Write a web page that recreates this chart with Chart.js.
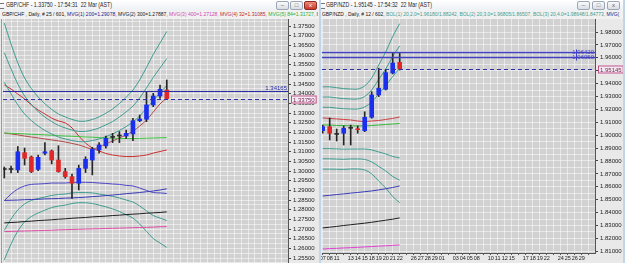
<!DOCTYPE html>
<html>
<head>
<meta charset="utf-8">
<script src="https://cdn.jsdelivr.net/npm/chart.js@4.4.0/dist/chart.umd.min.js"></script>
<style>
  body { margin: 0; width: 625px; height: 263px; overflow: hidden; background: #c3d5ea; position: relative;
         font-family: "Liberation Sans", Arial, sans-serif; }
  .win { position: absolute; top: 0; height: 263px; background: #e9e9e9; overflow: hidden; }
  #w1 { left: 0; width: 319px; }
  #w2 { left: 321px; width: 302px; }
  .title { position: absolute; left: 0; right: 0; top: 0; height: 10px; background: linear-gradient(#ffffff, #eef1f5);
           font-size: 7px; line-height: 10px; color: #1e1e1e; white-space: nowrap; }
  .info { position: absolute; left: 0; right: 0; top: 10px; height: 9px; background: #f1f1f1;
          font-size: 6px; line-height: 9px; white-space: nowrap; }
  .fit { display: inline-block; transform-origin: 0 50%; position: absolute; top: 0; }
  .ico { position: absolute; left: 0; top: 3px; width: 4px; height: 4px; border-top: 1px solid #777; border-bottom: 1px solid #777; }
  .btn { position: absolute; top: 1px; width: 11px; height: 7px; border: 1px solid #9ba6b6; border-radius: 2px;
         background: linear-gradient(#fafafa, #d9dde3); font-size: 6px; line-height: 7px; text-align: center; color: #555; }
  .btn.close { background: linear-gradient(#ec8a78, #c7392b); border-color: #8d2c22; color: #fff; }
  .edge { position: absolute; top: 19px; width: 1px; height: 244px; background: #9a9a9a; }
  canvas { position: absolute; top: 19px; }
</style>
</head>
<body>
<div class="win" id="w1">
  <div class="title"><span class="ico"></span><span class="fit" style="left:6px" data-w="106">GBP/CHF - 1.33750 - 17:54:31&nbsp;&nbsp;22 Mar (AST)</span></div>
  <div class="btn" style="left:276px">&#8211;</div>
  <div class="btn" style="left:290px">&#9633;</div>
  <div class="btn close" style="left:304px">x</div>
  <div class="info"><span class="fit" style="left:2px" data-w="316"><span style="color:#111">GBP/CHF , Daily, # 25 / 601, </span><span style="color:#1c1c8c">MVG(1) 200=1.29078, </span><span style="color:#1a1a1a">MVG(2) 300=1.27887, </span><span style="color:#d04ab8">MVG(3) 400=1.27128, </span><span style="color:#c02a2a">MVG(4) 32=1.31085, </span><span style="color:#2fb02f">MVG(5) 84=1.31727, </span><span style="color:#1c1c8c">I</span></span></div>
  <div class="edge" style="left:1px"></div>
  <canvas id="chf" width="317" height="244" style="left:2px"></canvas>
</div>
<div class="win" id="w2">
  <div class="title"><span class="ico"></span><span class="fit" style="left:5px" data-w="106">GBP/NZD - 1.95145 - 17:54:32&nbsp;&nbsp;22 Mar (AST)</span></div>
  <div class="btn" style="left:256px">&#8211;</div>
  <div class="btn" style="left:271px">&#9633;</div>
  <div class="btn" style="left:286px">x</div>
  <div class="info"><span class="fit" style="left:1px" data-w="297"><span style="color:#111">GBP/NZD , Daily, # 12 / 602, </span><span style="color:#3a9d92">BOL(1) 20,2.0=1.96180/1.88242, BOL(2) 20,3.0=1.96805/1.86507, BOL(3) 20,4.0=1.98648/1.84773, </span><span style="color:#1c1c8c">MVG(</span></span></div>
  <canvas id="nzd" width="302" height="244" style="left:0"></canvas>
</div>
<script>
// GBP/CHF daily candles
const chfOpen  = [1.3011, 1.3008, 1.3006, 1.3095, 1.3073, 1.3009, 1.3092, 1.3104, 1.3057, 1.2997, 1.2971, 1.2937, 1.3014, 1.3057, 1.3109, 1.3130, 1.3175, 1.3182, 1.3181, 1.3192, 1.3260, 1.3268, 1.3342, 1.3388, 1.3419]
const chfHigh  = [1.3021, 1.3026, 1.3127, 1.3119, 1.3078, 1.3083, 1.3147, 1.3109, 1.3131, 1.3014, 1.2985, 1.3031, 1.3074, 1.3123, 1.3147, 1.3181, 1.3195, 1.3204, 1.3212, 1.3273, 1.3290, 1.3410, 1.3402, 1.3445, 1.3471]
const chfLow   = [1.2964, 1.2990, 1.2992, 1.3031, 1.2992, 1.3002, 1.3083, 1.3037, 1.2994, 1.2963, 1.2859, 1.2902, 1.2992, 1.2980, 1.3092, 1.3118, 1.3147, 1.3147, 1.3169, 1.3157, 1.3255, 1.3255, 1.3333, 1.3376, 1.3376]
const chfClose = [1.3008, 1.3010, 1.3100, 1.3066, 1.2997, 1.3071, 1.3100, 1.3057, 1.2997, 1.2971, 1.2937, 1.3014, 1.3061, 1.3113, 1.3135, 1.3169, 1.3174, 1.3181, 1.3195, 1.3260, 1.3269, 1.3342, 1.3388, 1.3423, 1.3375]

// GBP/CHF moving averages
const chfMvg200 = [1.2848, 1.2849, 1.2850, 1.2852, 1.2853, 1.2854, 1.2856, 1.2857, 1.2858, 1.2860, 1.2861, 1.2863, 1.2865, 1.2868, 1.2870, 1.2873, 1.2876, 1.2879, 1.2883, 1.2886, 1.2889, 1.2893, 1.2897, 1.2902, 1.2908]
const chfMvg300 = [1.2732, 1.2734, 1.2736, 1.2739, 1.2741, 1.2744, 1.2746, 1.2748, 1.2751, 1.2753, 1.2756, 1.2758, 1.2760, 1.2763, 1.2765, 1.2767, 1.2770, 1.2772, 1.2775, 1.2777, 1.2779, 1.2782, 1.2784, 1.2786, 1.2789]
const chfMvg400 = [1.2687, 1.2688, 1.2689, 1.2690, 1.2691, 1.2692, 1.2693, 1.2694, 1.2696, 1.2697, 1.2698, 1.2699, 1.2700, 1.2701, 1.2702, 1.2703, 1.2704, 1.2705, 1.2706, 1.2707, 1.2708, 1.2709, 1.2710, 1.2712, 1.2713]
const chfMvg32  = [1.3445, 1.3424, 1.3398, 1.3373, 1.3342, 1.3316, 1.3295, 1.3274, 1.3259, 1.3249, 1.3223, 1.3181, 1.3145, 1.3119, 1.3104, 1.3091, 1.3083, 1.3078, 1.3075, 1.3075, 1.3078, 1.3083, 1.3093, 1.3101, 1.3109]
const chfMvg84  = [1.3197, 1.3195, 1.3194, 1.3192, 1.3190, 1.3189, 1.3187, 1.3185, 1.3183, 1.3181, 1.3180, 1.3178, 1.3176, 1.3175, 1.3173, 1.3171, 1.3170, 1.3169, 1.3168, 1.3168, 1.3169, 1.3170, 1.3171, 1.3172, 1.3173]
const chfFast   = [1.3197, 1.3192, 1.3187, 1.3181, 1.3176, 1.3171, 1.3166, 1.3161, 1.3156, 1.3150, 1.3143, 1.3135, 1.3124, 1.3114, 1.3124, 1.3140, 1.3156, 1.3171, 1.3187, 1.3207, 1.3233, 1.3264, 1.3305, 1.3347, 1.3378]

// GBP/CHF bollinger bands (2, 3, 4 deviations)
const chfBolU4 = [1.3765, 1.3657, 1.3559, 1.3481, 1.3427, 1.3383, 1.3348, 1.3319, 1.3295, 1.3280, 1.3267, 1.3258, 1.3258, 1.3267, 1.3280, 1.3299, 1.3321, 1.3349, 1.3382, 1.3419, 1.3471, 1.3536, 1.3603, 1.3662, 1.3722]
const chfBolU3 = [1.3612, 1.3528, 1.3450, 1.3388, 1.3344, 1.3308, 1.3279, 1.3256, 1.3236, 1.3223, 1.3212, 1.3205, 1.3205, 1.3212, 1.3223, 1.3239, 1.3256, 1.3280, 1.3306, 1.3336, 1.3378, 1.3430, 1.3484, 1.3533, 1.3582]
const chfBolU2 = [1.3459, 1.3399, 1.3342, 1.3295, 1.3261, 1.3233, 1.3210, 1.3192, 1.3176, 1.3166, 1.3158, 1.3152, 1.3152, 1.3158, 1.3166, 1.3178, 1.3192, 1.3210, 1.3230, 1.3254, 1.3285, 1.3324, 1.3365, 1.3404, 1.3442]
const chfBolL2 = [1.2847, 1.2881, 1.2907, 1.2923, 1.2931, 1.2933, 1.2935, 1.2938, 1.2938, 1.2938, 1.2941, 1.2942, 1.2942, 1.2941, 1.2938, 1.2936, 1.2933, 1.2931, 1.2926, 1.2923, 1.2912, 1.2900, 1.2889, 1.2887, 1.2884]
const chfBolL3 = [1.2694, 1.2752, 1.2799, 1.2830, 1.2848, 1.2858, 1.2866, 1.2874, 1.2879, 1.2881, 1.2887, 1.2889, 1.2889, 1.2887, 1.2881, 1.2876, 1.2869, 1.2861, 1.2850, 1.2840, 1.2819, 1.2794, 1.2770, 1.2757, 1.2744]
const chfBolL4 = [1.2541, 1.2623, 1.2690, 1.2737, 1.2765, 1.2783, 1.2798, 1.2811, 1.2819, 1.2824, 1.2832, 1.2836, 1.2836, 1.2832, 1.2824, 1.2815, 1.2804, 1.2791, 1.2774, 1.2757, 1.2726, 1.2688, 1.2651, 1.2628, 1.2605]

const chfLevels = [1.34165, 1.33750]
const chfTickLabels = ['1.25500', '1.26000', '1.26500', '1.27000', '1.27500', '1.28000', '1.28500', '1.29000', '1.29500', '1.30000', '1.30500', '1.31000', '1.31500', '1.32000', '1.32500', '1.33000', '1.33500', '1.34000', '1.34500', '1.35000', '1.35500', '1.36000', '1.36500', '1.37000', '1.37500']

// GBP/NZD daily candles
const nzdOpen  = [1.9035, 1.9066, 1.9008, 1.9015, 1.9054, 1.9048, 1.9035, 1.9139, 1.9312, 1.9356, 1.9482, 1.9565]
const nzdHigh  = [1.9079, 1.9134, 1.9048, 1.9072, 1.9079, 1.9072, 1.9182, 1.9337, 1.9519, 1.9511, 1.9640, 1.9635]
const nzdLow   = [1.9015, 1.8963, 1.8955, 1.8924, 1.8924, 1.9015, 1.9027, 1.9131, 1.9299, 1.9350, 1.9475, 1.9505]
const nzdClose = [1.9066, 1.9015, 1.9006, 1.9054, 1.9053, 1.9043, 1.9139, 1.9312, 1.9364, 1.9485, 1.9560, 1.95145]

const nzdBolU4 = [1.9375, 1.9375, 1.9368, 1.9361, 1.9358, 1.9358, 1.9382, 1.9444, 1.9544, 1.9645, 1.9765, 1.9865]
const nzdBolU3 = [1.9296, 1.9296, 1.9289, 1.9283, 1.9281, 1.9281, 1.9300, 1.9351, 1.9432, 1.9513, 1.9610, 1.9692]
const nzdBolU2 = [1.9216, 1.9216, 1.9210, 1.9205, 1.9203, 1.9203, 1.9219, 1.9258, 1.9320, 1.9382, 1.9455, 1.9518]
const nzdBolL2 = [1.8896, 1.8896, 1.8894, 1.8892, 1.8893, 1.8893, 1.8893, 1.8886, 1.8870, 1.8855, 1.8835, 1.8824]
const nzdBolL3 = [1.8817, 1.8817, 1.8815, 1.8813, 1.8816, 1.8816, 1.8812, 1.8793, 1.8758, 1.8723, 1.8680, 1.8651]
const nzdBolL4 = [1.8737, 1.8737, 1.8736, 1.8735, 1.8738, 1.8738, 1.8731, 1.8700, 1.8645, 1.8591, 1.8525, 1.8477]

const nzdMvgRed   = [1.9134, 1.9130, 1.9126, 1.9122, 1.9118, 1.9110, 1.9106, 1.9110, 1.9114, 1.9122, 1.9130, 1.9141]
const nzdMvgGreen = [1.9079, 1.9079, 1.9075, 1.9075, 1.9072, 1.9072, 1.9072, 1.9075, 1.9079, 1.9083, 1.9087, 1.9091]
const nzdMvgBlue  = [1.8529, 1.8534, 1.8540, 1.8545, 1.8551, 1.8556, 1.8562, 1.8568, 1.8576, 1.8585, 1.8595, 1.8607]
const nzdMvgBlack = [1.8281, 1.8287, 1.8293, 1.8300, 1.8306, 1.8312, 1.8318, 1.8325, 1.8333, 1.8341, 1.8349, 1.8359]
const nzdMvgPink  = [1.8118, 1.8121, 1.8123, 1.8126, 1.8128, 1.8131, 1.8134, 1.8137, 1.8140, 1.8143, 1.8146, 1.8149]

const nzdLevels = [1.9642, 1.9605, 1.95145]
const nzdTickLabels = ['1.81000', '1.82000', '1.83000', '1.84000', '1.85000', '1.86000', '1.87000', '1.88000', '1.89000', '1.90000', '1.91000', '1.92000', '1.93000', '1.94000', '1.95000', '1.96000', '1.97000', '1.98000']
// trading days Mar 7 .. May 1, blanks where the platform skipped the label
const nzdDays = ['07', '08', '11', '', '13', '14', '15', '18', '19', '20', '21', '22', '', '26', '27', '28', '29', '01', '', '03', '04', '05', '08', '', '10', '11', '12', '15', '', '17', '18', '19', '22', '', '24', '25', '26', '29', '', '']

// squeeze the pixel-font style text into its box
document.querySelectorAll('[data-w]').forEach(el => {
    el.style.transform = 'scaleX(' + (+el.dataset.w / el.scrollWidth) + ')'
})

const FONT = '"Liberation Sans", Arial, sans-serif'
const TEAL = '#3f9d90'

const candleSets = (open, high, low, close) => {
    const colors = open.map((o, i) => Math.abs(close[i] - o) < 0.0004 ? '#2a2a2a' : close[i] > o ? '#1a30ee' : '#e02828')
    return [{
        type: 'bar',
        data: high.map((h, i) => ({ x: i, y: [low[i], h] })),
        backgroundColor: '#262626',
        barThickness: 1,
        grouped: false,
        order: 2
    }, {
        type: 'bar',
        data: open.map((o, i) => ({ x: i, y: [o, close[i]] })),
        backgroundColor: colors,
        barThickness: 4,
        minBarLength: 1,
        grouped: false,
        order: 1
    }]
}

const line = (values, color) => ({
    type: 'line',
    data: values.map((v, i) => ({ x: i, y: v })),
    borderColor: color,
    borderWidth: 1,
    pointRadius: 0,
    tension: 0.35,
    fill: false,
    order: 3
})

// labelled price ticks plus a grid line half way between each
const priceTicks = (labels, half) => {
    const ticks = []
    labels.forEach(l => {
        ticks.push({ value: parseFloat(l), lab: l })
        ticks.push({ value: parseFloat(l) + half, lab: '' })
    })
    ticks.unshift({ value: parseFloat(labels[0]) - half, lab: '' })
    return ticks
}

const plotBg = {
    id: 'plotBg',
    beforeDraw(chart) {
        const { ctx, chartArea: a } = chart
        ctx.save()
        ctx.fillStyle = '#d1d1d1'
        ctx.fillRect(a.left, a.top, a.right - a.left, a.bottom - a.top)
        ctx.restore()
    }
}

const levels = {
    id: 'levels',
    afterDatasetsDraw(chart, args, opts) {
        const { ctx, chartArea: a, scales: { y } } = chart
        ctx.save()
        ctx.font = '6px ' + FONT
        opts.lines.forEach(l => {
            const py = Math.round(y.getPixelForValue(l.value)) + 0.5
            ctx.strokeStyle = l.color
            ctx.lineWidth = l.width || 1
            ctx.setLineDash(l.dash || [])
            ctx.beginPath()
            ctx.moveTo(a.left, py)
            ctx.lineTo(a.right, py)
            ctx.stroke()
            ctx.setLineDash([])
            const txt = l.value.toFixed(5)
            if (l.tag === 'above') {
                ctx.fillStyle = l.color
                ctx.textAlign = 'right'
                ctx.textBaseline = 'bottom'
                ctx.fillText(txt, a.right - 1, py - 0.5)
            } else if (l.tag === 'inside') {
                ctx.fillStyle = l.color
                ctx.textAlign = 'right'
                ctx.textBaseline = 'middle'
                ctx.fillText(txt, a.right - 1, py)
                ctx.lineWidth = 1
                ctx.beginPath()
                ctx.moveTo(a.right - 18.5, py - 3)
                ctx.lineTo(a.right - 18.5, py + 3)
                ctx.stroke()
            } else if (l.tag === 'box') {
                const w = ctx.measureText(txt).width + 3
                ctx.fillStyle = '#f1ecf1'
                ctx.fillRect(a.right + 3, py - 4, w, 8)
                ctx.strokeStyle = '#c4528c'
                ctx.lineWidth = 1
                ctx.strokeRect(a.right + 3.5, py - 3.5, w, 7)
                ctx.fillStyle = '#7c1f52'
                ctx.textAlign = 'left'
                ctx.textBaseline = 'middle'
                ctx.fillText(txt, a.right + 5, py + 0.5)
            }
        })
        ctx.restore()
    }
}

const makeChart = (id, datasets, cfg) => new Chart(id, {
    data: { datasets },
    plugins: [plotBg, levels],
    options: {
        responsive: false,
        animation: false,
        events: [],
        layout: { autoPadding: false, padding: { left: 1, right: 0, top: 0, bottom: 0 } },
        plugins: {
            legend: { display: false },
            tooltip: { enabled: false },
            levels: { lines: cfg.lines }
        },
        scales: {
            x: {
                type: 'linear',
                bounds: 'data',
                offset: false,
                min: cfg.xMin,
                max: cfg.xMax,
                grid: { offset: false, color: 'rgba(255,255,255,0.5)', drawTicks: !!cfg.days, tickLength: 2, tickColor: '#555' },
                border: { display: !!cfg.days, color: '#555' },
                ticks: {
                    display: !!cfg.days,
                    autoSkip: false,
                    maxRotation: 0,
                    padding: 0,
                    color: '#222',
                    font: { size: 5.5, family: FONT },
                    callback: (v, i, ticks) => ticks[i].lab || ''
                },
                afterBuildTicks: scale => {
                    const t = []
                    for (let i = Math.ceil(cfg.xMin); i <= cfg.xMax; i++) t.push({ value: i, lab: cfg.days ? cfg.days[i] : '' })
                    scale.ticks = t
                },
                afterFit: scale => {
                    scale.height = cfg.days ? 10 : 0
                    scale.paddingLeft = 0
                    scale.paddingRight = 0
                }
            },
            y: {
                type: 'linear',
                position: 'right',
                bounds: 'data',
                min: cfg.yMin,
                max: cfg.yMax,
                grid: {
                    color: 'rgba(255,255,255,0.5)',
                    tickLength: 3,
                    tickColor: c => c.tick && c.tick.lab ? '#444' : 'rgba(0,0,0,0)'
                },
                border: { color: '#555' },
                ticks: {
                    autoSkip: false,
                    padding: 2,
                    color: '#222',
                    font: { size: 6, family: FONT },
                    callback: (v, i, ticks) => ticks[i].lab || ''
                },
                afterBuildTicks: scale => {
                    scale.ticks = priceTicks(cfg.tickLabels, cfg.half).filter(t => t.value >= cfg.yMin && t.value <= cfg.yMax)
                },
                afterFit: scale => {
                    scale.width = cfg.axisW
                    scale.paddingTop = 0
                    scale.paddingBottom = 0
                }
            }
        }
    }
})

makeChart('chf', [
    line(chfMvg400, '#e04fa6'),
    line(chfMvg300, '#1e1e1e'),
    line(chfMvg200, '#3a3ab8'),
    line(chfBolL4, TEAL),
    line(chfBolL3, TEAL),
    line(chfBolL2, '#4d47c4'),
    line(chfBolU2, TEAL),
    line(chfBolU3, TEAL),
    line(chfBolU4, TEAL),
    line(chfMvg84, '#3ec43e'),
    line(chfFast, '#b44a4a'),
    line(chfMvg32, '#c83030'),
    ...candleSets(chfOpen, chfHigh, chfLow, chfClose)
], {
    xMin: -0.19, xMax: 41.9,
    yMin: 1.25246, yMax: 1.37862,
    tickLabels: chfTickLabels, half: 0.0025,
    axisW: 31,
    lines: [
        { value: chfLevels[0], color: '#2e2ea6', tag: 'above' },
        { value: chfLevels[1], color: '#2e2ea6', dash: [4, 3], tag: 'box' }
    ]
})

makeChart('nzd', [
    line(nzdMvgPink, '#e043cf'),
    line(nzdMvgBlack, '#1e1e1e'),
    line(nzdMvgBlue, '#3a3ab8'),
    line(nzdBolL4, TEAL),
    line(nzdBolL3, TEAL),
    line(nzdBolL2, TEAL),
    line(nzdBolU2, TEAL),
    line(nzdBolU3, TEAL),
    line(nzdBolU4, TEAL),
    line(nzdMvgGreen, '#3ab83a'),
    line(nzdMvgRed, '#d04040'),
    ...candleSets(nzdOpen, nzdHigh, nzdLow, nzdClose)
], {
    xMin: -0.1, xMax: 38.9,
    yMin: 1.80868, yMax: 1.99008,
    tickLabels: nzdTickLabels, half: 0.005,
    axisW: 28,
    days: nzdDays,
    lines: [
        { value: nzdLevels[0], color: '#4040c0', width: 1.5, tag: 'inside' },
        { value: nzdLevels[1], color: '#4040c0', width: 1.5, tag: 'inside' },
        { value: nzdLevels[2], color: '#2e2ea6', dash: [4, 3], tag: 'box' }
    ]
})
</script>
</body>
</html>
